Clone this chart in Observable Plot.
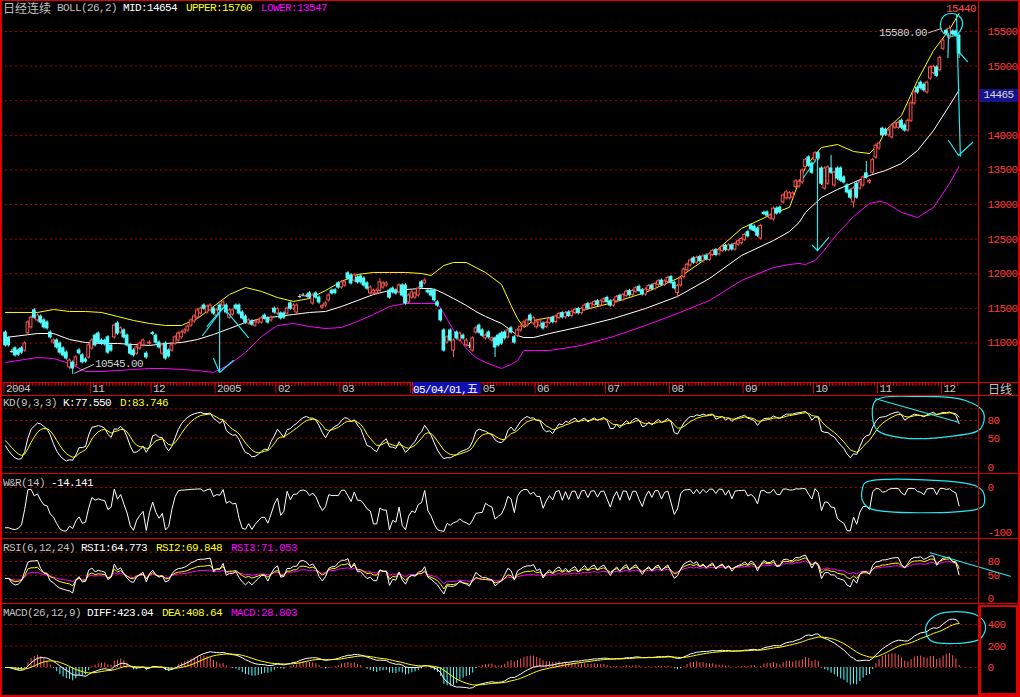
<!DOCTYPE html>
<html><head><meta charset="utf-8">
<script src="https://cdn.jsdelivr.net/npm/d3@7"></script>
<script src="https://cdn.jsdelivr.net/npm/@observablehq/plot@0.6"></script>
<style>
body{margin:0;background:#000;}
#c{position:relative;width:1020px;height:697px;background:#000;overflow:hidden;font-family:"Liberation Mono","DejaVu Sans Mono",monospace;}
.h{position:absolute;font-size:11px;letter-spacing:-0.6px;white-space:pre;line-height:12px;color:#c0c0c0;font-family:"Liberation Mono",monospace}
.cjk{font-family:"Noto Sans CJK SC",sans-serif;font-size:12px;letter-spacing:0}
.ln{position:absolute;background:#e00000}
</style></head><body><div id="c"></div>
<script>
// ---- daily candles (bar index 0..298), Nikkei continuous, Sep 2004 - Dec 2005
const opens=[
11150,11065,10875,10920,10890,10920,10890,11140,11225,11470,
11325,11380,11325,11295,11150,11005,11035,10990,10920,10860,
10645,10715,10675,10890,10820,10760,10790,10920,11105,11135,
11035,11030,11080,10960,11080,11280,11150,11180,11105,10960,
10890,10845,10920,10965,10845,10990,11140,11105,11005,10845,
10990,10890,10890,10990,11035,11080,11150,11180,11250,11310,
11365,11425,11540,11440,11470,11495,11395,11540,11540,11540,
11365,11410,11540,11540,11440,11380,11280,11310,11250,11295,
11295,11395,11355,11325,11495,11425,11425,11425,11425,11570,
11495,11440,11670,11690,11680,11715,11570,11715,11655,11510,
11540,11615,11755,11760,11860,11800,11830,12005,11975,11900,
11945,11960,11930,11860,11715,11715,11715,11755,11800,11830,
11755,11785,11755,11730,11830,11830,11585,11655,11655,11685,
11875,11860,11755,11755,11755,11585,11470,11180,11005,11180,
10890,11150,11035,11105,10965,10960,10890,11150,11250,11180,
11065,11150,11035,11065,11105,11135,11150,11080,11210,11080,
11105,11180,11250,11250,11395,11280,11225,11250,11280,11230,
11290,11360,11300,11360,11430,11370,11440,11390,11430,11490,
11430,11480,11560,11500,11550,11600,11540,11590,11650,11600,
11540,11600,11680,11620,11680,11750,11690,11740,11810,11760,
11700,11760,11830,11780,11840,11900,11840,11880,11950,11870,
11720,11830,11950,12050,12120,12220,12160,12240,12180,12260,
12200,12270,12340,12280,12330,12400,12340,12410,12350,12420,
12440,12490,12600,12700,12680,12650,12510,12880,12885,12800,
12785,12940,12955,13030,13090,13090,13100,13250,13260,13320,
13540,13680,13590,13640,13740,13520,13230,13300,13520,13275,
13520,13520,13390,13275,13200,13030,13300,13230,13275,13450,
13320,13460,13680,13810,14095,14080,14000,13970,14110,14110,
14210,14140,14070,14210,14460,14690,14760,14730,14620,14820,
14900,14980,14940,15250,15510,15410,15500,15500,15440];
const closes=[
10965,10965,10875,10820,10830,10860,10990,11295,11365,11365,
11395,11295,11225,11210,11080,11035,10935,10860,10820,10775,
10745,10630,10790,10850,10720,10730,10965,11035,10965,11005,
10990,10980,10860,10890,11250,11135,11210,11080,10965,10845,
10820,10935,10990,11035,10790,11005,11130,11005,10935,10965,
10775,10805,10965,11080,11135,11150,11180,11235,11325,11380,
11470,11495,11495,11525,11540,11425,11470,11470,11585,11440,
11470,11470,11495,11425,11355,11295,11325,11265,11295,11325,
11355,11355,11295,11365,11440,11485,11355,11365,11495,11495,
11540,11540,11670,11690,11680,11655,11685,11655,11585,11530,
11570,11685,11715,11720,11800,11875,11875,11930,11860,11975,
11875,11875,11830,11785,11800,11755,11755,11875,11860,11860,
11655,11730,11715,11830,11685,11570,11685,11730,11715,11785,
11800,11900,11730,11685,11615,11540,11325,10890,11080,11035,
11035,11065,11135,11065,11035,10960,11065,11210,11150,11105,
11105,11080,11065,10935,10965,10990,11065,11180,11150,11005,
11180,11235,11295,11325,11325,11355,11295,11325,11210,11290,
11340,11300,11380,11420,11370,11430,11390,11450,11480,11430,
11490,11540,11500,11560,11590,11550,11600,11630,11590,11540,
11610,11660,11620,11690,11740,11690,11750,11790,11750,11700,
11770,11820,11780,11850,11890,11840,11890,11940,11870,11790,
11820,11930,12060,12130,12190,12160,12230,12180,12250,12210,
12280,12330,12270,12340,12390,12340,12410,12350,12430,12470,
12500,12560,12540,12640,12620,12550,12690,12865,12840,12840,
12940,12870,12885,13130,13175,13160,13160,13335,13330,13490,
13640,13560,13460,13740,13665,13300,13520,13535,13460,13460,
13375,13345,13320,13175,13100,13230,13100,13320,13390,13390,
13340,13640,13850,13880,14000,14010,14070,14140,14170,14180,
14110,14070,14210,14460,14620,14620,14680,14650,14760,14980,
14990,14860,15120,15370,15470,15540,15460,15440,15180];
const highs=[
11175,11090,10905,10945,10915,10945,11015,11320,11390,11495,
11420,11405,11350,11320,11175,11060,11060,11015,10945,10885,
10770,10740,10815,10920,10845,10785,10990,11060,11130,11160,
11060,11055,11105,10985,11275,11305,11235,11205,11130,10985,
10915,10960,11015,11060,10870,11030,11165,11130,11030,10990,
11015,10915,10990,11105,11160,11175,11205,11260,11350,11405,
11495,11520,11565,11550,11565,11520,11495,11565,11610,11565,
11495,11495,11565,11565,11465,11405,11350,11335,11320,11350,
11380,11420,11380,11390,11520,11510,11450,11450,11520,11595,
11565,11565,11700,11715,11705,11740,11710,11740,11680,11555,
11595,11710,11780,11785,11885,11900,11900,12030,12000,12000,
11970,11985,11955,11885,11825,11780,11780,11930,11885,11885,
11780,11810,11780,11855,11855,11855,11710,11755,11740,11810,
11900,11925,11780,11780,11780,11610,11495,11205,11105,11205,
11060,11175,11160,11130,11060,11005,11090,11235,11275,11205,
11130,11175,11090,11090,11130,11160,11175,11205,11235,11105,
11205,11260,11320,11350,11420,11380,11320,11350,11305,11315,
11365,11385,11405,11445,11455,11455,11465,11475,11505,11515,
11515,11565,11585,11585,11615,11625,11625,11655,11675,11625,
11635,11685,11705,11715,11765,11775,11775,11815,11835,11785,
11795,11845,11855,11875,11915,11925,11915,11965,11975,11895,
11845,11955,12085,12155,12215,12245,12255,12265,12275,12285,
12305,12355,12365,12365,12415,12425,12435,12435,12455,12495,
12525,12585,12625,12725,12705,12675,12715,12905,12910,12865,
12965,12965,12980,13155,13200,13185,13185,13360,13355,13515,
13665,13705,13615,13765,13765,13545,13545,13560,13710,13485,
13545,13545,13415,13300,13225,13255,13325,13345,13415,13620,
13365,13665,13875,13905,14120,14105,14095,14165,14195,14205,
14235,14165,14235,14485,14645,14715,14785,14755,14785,15005,
15015,15005,15145,15395,15535,15580,15525,15525,15465];
const lows=[
10940,10940,10850,10795,10805,10835,10865,11115,11200,11340,
11300,11270,11200,11185,11055,10980,10910,10835,10795,10750,
10620,10545,10650,10825,10695,10705,10765,10895,10940,10980,
10965,10955,10835,10865,11055,11110,11125,11055,10940,10820,
10795,10820,10895,10940,10765,10965,11105,10980,10910,10820,
10750,10780,10865,10965,11010,11055,11125,11155,11225,11285,
11340,11400,11470,11415,11445,11400,11370,11445,11515,11415,
11340,11385,11470,11400,11330,11270,11255,11240,11225,11270,
11270,11330,11270,11300,11415,11400,11330,11340,11400,11470,
11470,11415,11640,11665,11655,11630,11545,11630,11560,11485,
11515,11590,11690,11695,11775,11775,11805,11905,11835,11875,
11850,11850,11805,11760,11690,11690,11690,11730,11775,11805,
11630,11705,11690,11705,11660,11545,11560,11630,11630,11660,
11775,11835,11705,11660,11590,11515,11300,10865,10980,11010,
10790,11040,11010,11040,10940,10920,10865,11125,11125,11080,
11040,11055,11010,10790,10940,10965,11040,11055,11125,10980,
11080,11155,11225,11225,11300,11255,11200,11225,11185,11205,
11265,11275,11275,11335,11345,11345,11365,11365,11405,11405,
11405,11455,11475,11475,11525,11525,11515,11565,11565,11515,
11515,11575,11595,11595,11655,11665,11665,11715,11725,11675,
11675,11735,11755,11755,11815,11815,11815,11855,11845,11765,
11650,11805,11925,12025,12095,12135,12135,12155,12155,12185,
12175,12245,12245,12255,12305,12315,12315,12325,12325,12395,
12415,12465,12515,12615,12595,12525,12485,12840,12815,12775,
12760,12845,12860,13005,13065,13065,13075,13225,13235,13295,
13515,13535,13435,13615,13640,13275,13205,13275,13435,13250,
13350,13320,13295,13150,13075,12950,13075,13205,13250,13365,
13295,13435,13655,13785,13975,13985,13975,13945,14085,14085,
14085,14045,14045,14185,14435,14595,14655,14625,14595,14795,
14875,14835,14915,15225,15445,15385,15435,15415,15110];

// ---- BOLL(26,2) read at knots (bar index)
const bollIdx=[0,10,15,20,25,30,35,40,45,50,55,60,65,70,75,80,85,90,95,100,105,110,115,120,125,130,133,135,137,140,144,147,150,155,158,160,162,165,170,180,190,200,210,220,230,240,245,248,250,253,255,260,265,270,273,275,280,285,290,295,298];
const bollUpper=[11440,11440,11483,11454,11454,11440,11382,11324,11281,11252,11252,11353,11526,11700,11801,11743,11656,11599,11642,11757,11888,11989,12018,12018,12018,12003,11974,12046,12119,12162,12162,12090,12018,11844,11541,11353,11223,11324,11367,11469,11584,11729,11931,12249,12653,12870,12960,13333,13535,13723,13824,13867,13766,13737,13882,14069,14286,14792,15225,15529,15760];
const bollMid=[11078,11136,11136,11049,11006,10992,10992,10977,10963,10992,11006,11049,11122,11208,11295,11353,11382,11411,11440,11454,11526,11613,11700,11757,11772,11786,11786,11757,11714,11642,11541,11454,11382,11281,11180,11107,11078,11078,11136,11237,11353,11497,11671,11931,12263,12480,12610,12740,12885,13015,13101,13217,13318,13419,13463,13491,13593,13780,14069,14431,14654];
const bollLower=[10717,10789,10775,10703,10587,10587,10601,10616,10630,10630,10616,10601,10573,10688,10862,11093,11252,11281,11237,11208,11223,11310,11411,11526,11570,11570,11570,11570,11425,11180,10919,10789,10717,10630,10688,10746,10890,10890,10890,10963,11093,11252,11425,11613,11902,12090,12133,12148,12133,12191,12292,12581,12827,13015,13044,13029,12885,12812,12957,13304,13547];

// ---- axes (14500 label is hidden behind the 14465 price box; April label behind the cursor-date box)
const priceGrid=[11000,11500,12000,12500,13000,13500,14000,14500,15000,15500];
const priceTicks=[11000,11500,12000,12500,13000,13500,14000,15000,15500];
const monthIdx=[0,27,46,66,85,105,127,149,166,188,208,231,253,273,293];
const monthLabels=["2004","11","12","2005","02","03","","05","06","07","08","09","10","11","12"];
const kdTicks=[0,50,80], kdGrid=[100,80,50,0];
const wrTicks=[0,-100], wrGrid=[0,-100];
const rsiTicks=[0,50,80], rsiGrid=[100,80,50,0];
const macdTicks=[0,200,400], macdGrid=[400,200,0];

// ---- hand-drawn cyan annotations (bar index i, value v)
const annMain=[
 [{i:61.6,v:11107},{i:68.1,v:11512},{i:75.9,v:11078}],
 [{i:63,v:11240},{i:68.1,v:11512}],
 [{i:66.9,v:11512},{i:66.9,v:10573}],
 [{i:65,v:10775},{i:66.9,v:10573},{i:71.2,v:10746}],
 [{i:253.75,v:13737},{i:253.75,v:12335}],
 [{i:252.2,v:12408},{i:253.75,v:12335},{i:257.2,v:12523}],
 [{i:249.4,v:13390},{i:253.1,v:13636}],
 [{i:297.2,v:15730},{i:298.4,v:13700}],
 [{i:294.7,v:13925},{i:297.8,v:13708},{i:302.2,v:13896}],
 [{i:294.7,v:15471},{i:294.5,v:15124}],
 [{i:298.4,v:15182},{i:300.6,v:15066}]];
const annTopRing=[{i:295.6,v:15760},{i:297.8,v:15731},{i:299.1,v:15630},{i:298.4,v:15514},{i:296.9,v:15442},{i:294.4,v:15442},{i:292.5,v:15514},{i:292.2,v:15630},{i:293.4,v:15731}];
const annKdRing=[{i:271.9,v:114},{i:285.9,v:121},{i:300,v:114},{i:305.6,v:94},{i:304.7,v:66},{i:295.3,v:53},{i:279.7,v:51},{i:272.5,v:63},{i:270.9,v:88}];
const annKdLine=[{i:271.9,v:117},{i:297.8,v:77}];
const annWrRing=[{i:268.75,v:11},{i:303.1,v:4},{i:305.6,v:-11},{i:305.6,v:-40},{i:303.1,v:-49},{i:270.3,v:-47},{i:267.8,v:-29},{i:267.8,v:-2}];
const annRsiLine=[{i:289,v:99},{i:314,v:48}];
const annMacdRing=[{i:293.75,v:512},{i:303.1,v:493},{i:306.25,v:391},{i:304.7,v:270},{i:296.9,v:223},{i:289.1,v:251},{i:287.5,v:363},{i:289.7,v:465}];

// ================= indicators derived from the candles =================
const N=closes.length, idx=d3.range(N);
const win=(arr,i,n)=>arr.slice(Math.max(0,i-n+1),i+1);
let kp=50,dp=50; const K=[],D=[];
for(let i=0;i<N;i++){const hh=d3.max(win(highs,i,9)),ll=d3.min(win(lows,i,9));const rsv=hh>ll?(closes[i]-ll)/(hh-ll)*100:50;kp=(rsv+2*kp)/3;dp=(kp+2*dp)/3;K.push(kp);D.push(dp);}
const WR=idx.map(i=>{const hh=d3.max(win(highs,i,14)),ll=d3.min(win(lows,i,14));return hh>ll?-(hh-closes[i])/(hh-ll)*100:-50;});
const diffs=idx.slice(1).map(i=>closes[i]-closes[i-1]);
function rsi(n){let up=d3.mean(diffs.slice(0,24),d=>Math.max(d,0)),ab=d3.mean(diffs.slice(0,24),d=>Math.abs(d));const out=[up/ab*100];
 diffs.forEach(d=>{up=(Math.max(d,0)+(n-1)*up)/n;ab=(Math.abs(d)+(n-1)*ab)/n;out.push(ab>0?up/ab*100:50);});return out;}
const R1=rsi(6),R2=rsi(12),R3=rsi(24);
function ema(a,n){let p;return a.map((v,i)=>p=(i===0?v:(2*v+(n-1)*p)/(n+1)));}
const E12=ema(closes,12),E26=ema(closes,26);
const DIFF=idx.map(i=>E12[i]-E26[i]);const DEA=ema(DIFF,9);const MACD=idx.map(i=>2*(DIFF[i]-DEA[i]));

// ================= drawing =================
const C=document.getElementById("c");
const xDom=[-1.5625,304.0625];
const RED="#ff5454",CY="#54fcfc",ANN="#22e8f4",GRID="#b00000";
const style={background:"transparent",color:"#ff3c3c",fontFamily:"'Liberation Mono',monospace",fontSize:"11px",letterSpacing:"-0.6px",overflow:"visible"};
function place(el,top){el.style.position="absolute";el.style.left="0px";el.style.top=top+"px";C.appendChild(el);}
function base(height,mb,dom,ticks,grid,marks){
 return Plot.plot({width:1020,height,marginTop:0,marginBottom:mb,marginLeft:0,marginRight:42,
  x:{domain:xDom,axis:null},
  y:{domain:dom,axis:"right",ticks,tickSize:0,tickPadding:9,tickFormat:d=>String(d),label:null},
  color:{type:"identity"},style,
  marks:[Plot.ruleY(grid,{stroke:GRID,strokeDasharray:"2,3"}),...marks]});
}
const up=idx.filter(i=>closes[i]>opens[i]),dn=idx.filter(i=>closes[i]<opens[i]),dj=idx.filter(i=>closes[i]===opens[i]);
const ln=(data,stroke,curve="linear")=>Plot.line(data,{x:"i",y:"v",stroke,strokeWidth:1.2,curve});
const boll=(arr,stroke)=>Plot.line(bollIdx,{x:d=>d,y:(d,k)=>arr[k],stroke,strokeWidth:1});
const mLabel=new Map(monthIdx.map((m,k)=>[m-0.5,monthLabels[k]]));

// main price panel + date strip
place(Plot.plot({width:1020,height:396,marginTop:0,marginBottom:14,marginLeft:0,marginRight:42,
 x:{domain:xDom},
 y:{domain:[10428,15948],axis:"right",ticks:priceTicks,tickSize:0,tickPadding:9,tickFormat:d=>String(d),label:null},
 color:{type:"identity"},style,
 marks:[
  Plot.ruleY(priceGrid,{stroke:GRID,strokeDasharray:"2,3"}),
  boll(bollUpper,"#ffff00"),boll(bollLower,"#ff00ff"),boll(bollMid,"#ffffff"),
  Plot.ruleX(up,{x:i=>i,y1:i=>lows[i],y2:i=>highs[i],stroke:RED}),
  Plot.ruleX(dn,{x:i=>i,y1:i=>lows[i],y2:i=>highs[i],stroke:CY}),
  Plot.ruleX(dj,{x:i=>i,y1:i=>lows[i],y2:i=>highs[i],stroke:"#d8d8d8"}),
  Plot.rect(up,{x1:i=>i-0.42,x2:i=>i+0.42,y1:i=>opens[i],y2:i=>closes[i],fill:"#000",stroke:RED}),
  Plot.rect(dn,{x1:i=>i-0.42,x2:i=>i+0.42,y1:i=>opens[i],y2:i=>closes[i],fill:CY,stroke:CY}),
  Plot.ruleY(dj,{y:i=>closes[i],x1:i=>i-0.5,x2:i=>i+0.5,stroke:"#d8d8d8"}),
  ...annMain.map(a=>ln(a,ANN)),
  ln(annTopRing,ANN,"catmull-rom-closed"),
  Plot.link([0],{x1:21.5,y1:10560,x2:27.6,y2:10690,stroke:"#c8c8c8"}),
  Plot.text(["10545.00"],{x:28,y:10700,text:d=>d,fill:"#d0d0d0",textAnchor:"start",fontSize:11}),
  Plot.link([0],{x1:288.3,y1:15480,x2:292.6,y2:15545,stroke:"#c8c8c8"}),
  Plot.text(["15580.00"],{x:288,y:15480,text:d=>d,fill:"#d0d0d0",textAnchor:"end",fontSize:11}),
  Plot.text(["15440"],{x:298.6,y:15832,text:d=>d,fill:"#ff4a4a",fontSize:11}),
  Plot.axisX(idx.map(i=>i-0.5),{anchor:"bottom",tickSize:4,stroke:"#e00000",fill:"none",label:null}),
  Plot.axisX(monthIdx.map(m=>m-0.5),{anchor:"bottom",tickSize:11,stroke:"#e00000",fill:"none",label:null}),
  Plot.axisX(monthIdx.filter((m,k)=>monthLabels[k]!=="").map(m=>m-0.5),{anchor:"bottom",tickSize:0,tickPadding:2,tickFormat:d=>mLabel.get(d),textAnchor:"start",dx:2,fill:"#c8c8c8",label:null})
 ]}),0);

// KD
place(base(78,0,[-10.2,122.55],kdTicks,kdGrid,[
 Plot.line(idx,{x:i=>i,y:i=>K[i],stroke:"#ffffff",strokeWidth:1}),
 Plot.line(idx,{x:i=>i,y:i=>D[i],stroke:"#ffff00",strokeWidth:1}),
 ln(annKdRing,ANN,"catmull-rom-closed"),ln(annKdLine,ANN)]),395);
// W&R
place(base(65,0,[-113.3,31.1],wrTicks,wrGrid,[
 Plot.line(idx,{x:i=>i,y:i=>WR[i],stroke:"#ffffff",strokeWidth:1}),
 ln(annWrRing,ANN,"catmull-rom-closed")]),473);
// RSI
place(base(65,0,[-10.8,129.7],rsiTicks,rsiGrid,[
 Plot.line(idx,{x:i=>i,y:i=>R3[i],stroke:"#ff00ff",strokeWidth:1}),
 Plot.line(idx,{x:i=>i,y:i=>R2[i],stroke:"#ffff00",strokeWidth:1}),
 Plot.line(idx,{x:i=>i,y:i=>R1[i],stroke:"#ffffff",strokeWidth:1}),
 ln(annRsiLine,ANN)]),538);
// MACD
place(base(93,0,[-269.8,595.3],macdTicks,macdGrid,[
 Plot.ruleX(idx,{x:i=>i,y1:0,y2:i=>MACD[i],stroke:i=>MACD[i]>=0?RED:CY,strokeWidth:1}),
 Plot.line(idx,{x:i=>i,y:i=>DIFF[i],stroke:"#ffffff",strokeWidth:1}),
 Plot.line(idx,{x:i=>i,y:i=>DEA[i],stroke:"#ffff00",strokeWidth:1}),
 ln(annMacdRing,ANN,"catmull-rom-closed")]),603);

// frame lines & labels (HTML)
const html=`
<div class="ln" style="left:0;top:0;width:1020px;height:1px"></div>
<div class="ln" style="left:0;top:0;width:2px;height:697px"></div>
<div class="ln" style="left:1018px;top:0;width:2px;height:697px"></div>
<div class="ln" style="left:0;top:695px;width:1020px;height:2px"></div>
<div class="ln" style="left:978px;top:0;width:1px;height:697px"></div>
<div class="ln" style="left:0;top:382px;width:1020px;height:1px"></div>
<div class="ln" style="left:0;top:395px;width:1020px;height:1px"></div>
<div class="ln" style="left:0;top:473px;width:1020px;height:1px"></div>
<div class="ln" style="left:0;top:538px;width:1020px;height:1px"></div>
<div class="ln" style="left:0;top:603px;width:1020px;height:1px"></div>
<div style="position:absolute;left:979px;top:605px;width:35px;height:86px;border:2px solid #e00000"></div>
<div class="h" style="left:979px;top:89px;width:39px;height:13px;background:#14148c;color:#d8d8d8;text-align:center;line-height:13px">14465</div>
<div class="h" style="left:412px;top:382px;width:68px;height:12px;background:#1010b0;color:#ffffff;border-left:1px solid #e00000">05/04/01,<span class="cjk" style="font-size:11px">五</span></div>
<div class="h" style="left:988px;top:383px"><span class="cjk">日线</span></div>
<div class="h" style="left:3px;top:2px"><span class="cjk">日经连续</span></div>
<div class="h" style="left:57px;top:2px">BOLL(26,2)</div>
<div class="h" style="left:123px;top:2px;color:#fff">MID:14654</div>
<div class="h" style="left:186px;top:2px;color:#ff0">UPPER:15760</div>
<div class="h" style="left:261px;top:2px;color:#f0f">LOWER:13547</div>
<div class="h" style="left:3px;top:397px">KD(9,3,3)</div>
<div class="h" style="left:63px;top:397px;color:#fff">K:77.550</div>
<div class="h" style="left:120px;top:397px;color:#ff0">D:83.746</div>
<div class="h" style="left:3px;top:477px">W&amp;R(14)</div>
<div class="h" style="left:51px;top:477px;color:#fff">-14.141</div>
<div class="h" style="left:3px;top:542px">RSI(6,12,24)</div>
<div class="h" style="left:81px;top:542px;color:#fff">RSI1:64.773</div>
<div class="h" style="left:156px;top:542px;color:#ff0">RSI2:69.848</div>
<div class="h" style="left:231px;top:542px;color:#f0f">RSI3:71.053</div>
<div class="h" style="left:3px;top:607px">MACD(26,12,9)</div>
<div class="h" style="left:87px;top:607px;color:#fff">DIFF:423.04</div>
<div class="h" style="left:162px;top:607px;color:#ff0">DEA:408.64</div>
<div class="h" style="left:231px;top:607px;color:#f0f">MACD:28.803</div>`;
C.insertAdjacentHTML("beforeend",html);
</script></body></html>
